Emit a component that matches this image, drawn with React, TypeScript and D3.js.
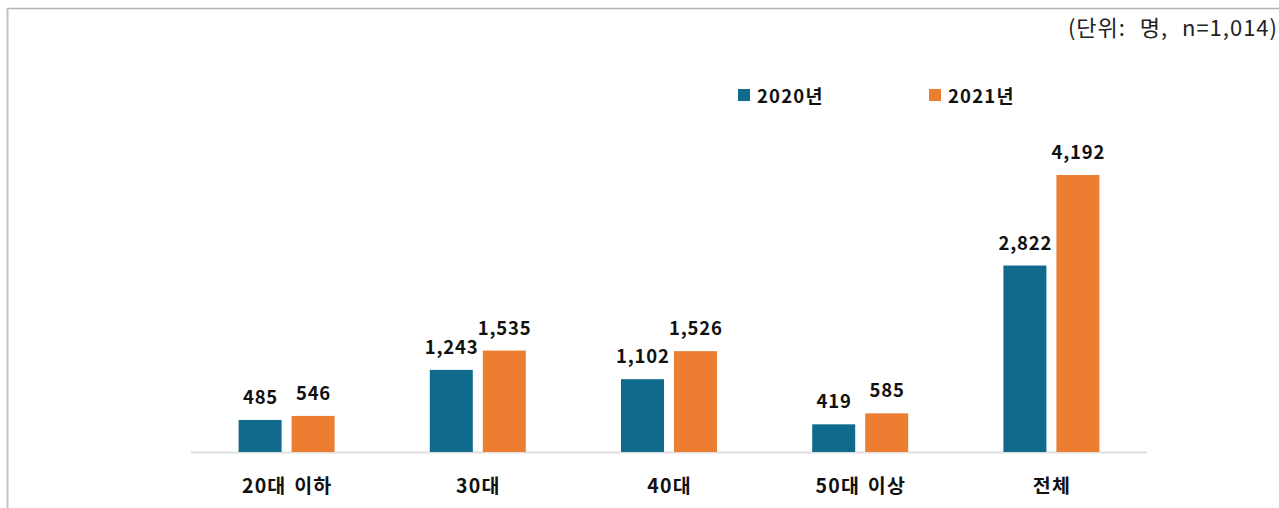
import React from "react";
import * as d3 from "d3";

const categories = ["20대 이하", "30대", "40대", "50대 이상", "전체"];
const series2020 = [485, 1243, 1102, 419, 2822];
const series2021 = [546, 1535, 1526, 585, 4192];
const seriesNames = ["2020년", "2021년"];
const colors = ["#0f6a8b", "#ed7d31"];
const unitText = "(단위:  명,  n=1,014)";

const W = 1279;
const H = 508;
const FONT = "'Noto Sans CJK KR', 'Noto Sans', sans-serif";

export default function App() {
  const x = d3.scaleBand<string>().domain(categories).range([191, 1147]);
  const y = d3.scaleLinear().domain([0, 4192]).range([452, 175]);
  const fmt = d3.format(",");
  const barW = 43;
  const gap = 10;
  const data = [series2020, series2021];

  return (
    <svg
      width={W}
      height={H}
      style={{ position: "absolute", left: 0, top: 0, background: "#fff" }}
      fontFamily={FONT}
    >
      <line x1={7.5} y1={8} x2={7.5} y2={H} stroke="#c4c4c4" strokeWidth={2} />
      <line x1={7} y1={8.5} x2={W} y2={8.5} stroke="#b4b4b4" strokeWidth={1.5} />
      <text
        x={1277 + 1}
        y={36}
        textAnchor="end"
        fontSize={22}
        letterSpacing={1}
        wordSpacing={1}
        fill="#222"
        style={{ whiteSpace: "pre" }}
      >
        {unitText}
      </text>
      {seriesNames.map((n, i) => (
        <g key={n} transform={`translate(${738 + i * 191},0)`}>
          <rect x={0} y={89} width={12} height={12} fill={colors[i]} />
          <text x={19} y={103} fontSize={18.5} letterSpacing={1.2} fontWeight="bold" fill="#111">
            {n}
          </text>
        </g>
      ))}
      <line x1={191} x2={1147} y1={452.5} y2={452.5} stroke="#e0e0e0" strokeWidth={2} />
      {categories.map((c, ci) => {
        const cx = (x(c) as number) + x.bandwidth() / 2;
        return (
          <g key={c}>
            {data.map((s, si) => {
              const bx = si === 0 ? cx - gap / 2 - barW : cx + gap / 2;
              const top = y(s[ci]);
              return (
                <g key={si}>
                  <rect x={bx} y={top} width={barW} height={y(0) - top} fill={colors[si]} />
                  <text
                    x={bx + barW / 2 + 0.4}
                    y={top - 16}
                    textAnchor="middle"
                    fontSize={18.5}
                    letterSpacing={0.8}
                    fontWeight="bold"
                    fill="#111"
                  >
                    {fmt(s[ci])}
                  </text>
                </g>
              );
            })}
            <text
              x={cx + 0.6}
              y={493}
              textAnchor="middle"
              fontSize={19.5}
              letterSpacing={1.2}
              wordSpacing={2}
              fontWeight="bold"
              fill="#111"
            >
              {c}
            </text>
          </g>
        );
      })}
    </svg>
  );
}
